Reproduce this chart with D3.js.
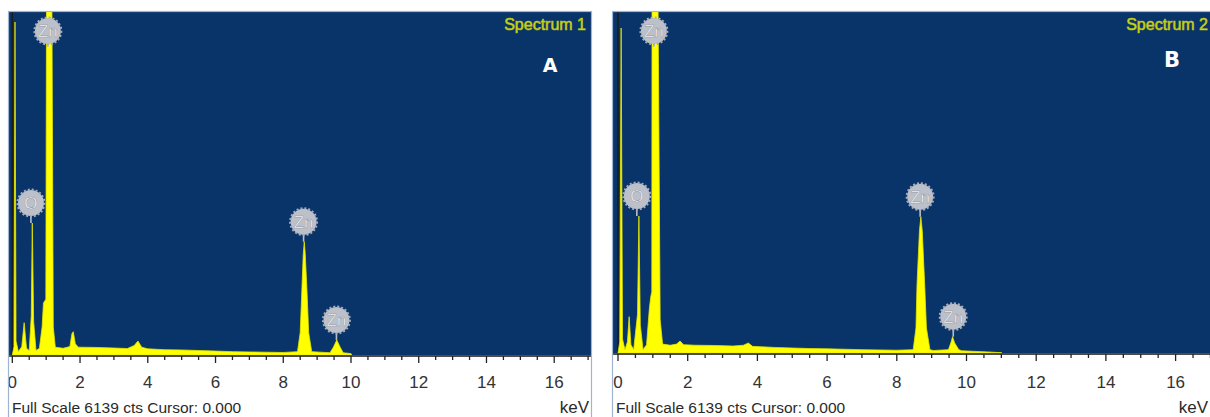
<!DOCTYPE html>
<html>
<head>
<meta charset="utf-8">
<script src="https://cdn.jsdelivr.net/npm/d3@7"></script>
<style>
  body { margin: 0; background: #ffffff; }
  svg { display: block; }
</style>
</head>
<body>
<div id="drawing_region"></div>
<script>
// EDS spectra (keV, counts)
const fullScale = 6139;
const tickLabels = [0, 2, 4, 6, 8, 10, 12, 14, 16];

const spectrumA_keV = [0.00, 0.05, 0.08, 0.11, 0.18, 0.28, 0.35, 0.42, 0.50, 0.56, 0.59, 0.63, 0.70, 0.80, 0.88, 0.92, 0.99, 1.02, 1.15, 1.21, 1.27, 1.50, 1.70, 1.76, 1.80, 1.86, 1.95, 2.50, 3.00, 3.40, 3.60, 3.71, 3.82, 4.00, 4.50, 5.00, 5.50, 6.00, 6.50, 7.00, 7.50, 8.00, 8.42, 8.50, 8.54, 8.59, 8.62, 8.65, 8.71, 8.75, 8.84, 9.38, 9.48, 9.58, 9.68, 9.77, 10.00, 10.02];
const spectrumA_cts = [0, 150, 5960, 250, 60, 150, 578, 120, 80, 700, 2362, 600, 80, 120, 500, 930, 1000, 9000, 9000, 500, 140, 120, 150, 380, 417, 200, 140, 135, 125, 115, 170, 250, 140, 110, 95, 90, 80, 70, 60, 55, 50, 45, 60, 400, 1014, 1800, 2028, 1800, 1014, 400, 60, 40, 140, 268, 140, 40, 25, 0];

const spectrumB_keV = [0.00, 0.05, 0.09, 0.13, 0.20, 0.27, 0.32, 0.37, 0.45, 0.56, 0.60, 0.64, 0.72, 0.82, 0.90, 0.94, 0.97, 0.98, 1.12, 1.21, 1.28, 1.50, 1.68, 1.78, 1.88, 2.20, 2.80, 3.30, 3.60, 3.74, 3.86, 4.50, 5.00, 5.50, 6.00, 7.00, 8.00, 8.47, 8.55, 8.58, 8.65, 8.69, 8.73, 8.80, 8.85, 8.95, 9.05, 9.48, 9.55, 9.60, 9.66, 9.78, 9.86, 10.20, 10.60, 11.00, 11.02];
const spectrumB_cts = [0, 200, 5851, 250, 60, 200, 654, 150, 60, 700, 2466, 500, 60, 150, 800, 1014, 1100, 9000, 9000, 600, 160, 140, 160, 216, 150, 140, 135, 125, 140, 180, 120, 100, 90, 80, 75, 60, 50, 60, 450, 1227, 2200, 2454, 2200, 1227, 450, 60, 45, 60, 180, 294, 180, 60, 40, 30, 20, 5, 0];

// element markers
const labelsA_name = ['Zn', 'O', 'Zn', 'Zn'];
const labelsA_keV = [1.05, 0.55, 8.60, 9.57];
const labelsA_cts = [9000, 2362, 2028, 268];

const labelsB_name = ['Zn', 'O', 'Zn', 'Zn'];
const labelsB_keV = [1.03, 0.54, 8.67, 9.62];
const labelsB_cts = [9000, 2466, 2454, 294];

const svg = d3.select('#drawing_region')
    .append('svg')
    .attr('width', 1210)
    .attr('height', 417);

const narrow = '"Liberation Sans Narrow", "Liberation Sans", Arial, sans-serif';

class SpectrumChart {

    constructor( config, data ) {
        this.config = config;
        this.data = data;
        this.init();
    }

    init() {
        let self = this;
        const c = self.config;

        self.chart = svg.append('g');

        self.xscale = d3.scaleLinear()
            .domain([0, 16])
            .range([c.x0, c.x0 + 16 * c.pxPerKeV]);
        self.yscale = d3.scaleLinear()
            .domain([0, fullScale])
            .range([c.bottom, c.top]);

        self.area = d3.area()
            .x( d => self.xscale(d.kev) )
            .y0( self.yscale(0) )
            .y1( d => self.yscale(d.cts) );
    }

    render() {
        let self = this;
        const c = self.config;
        const clipId = 'clip' + c.id;

        self.chart.append('clipPath')
            .attr('id', clipId)
            .append('rect')
            .attr('x', c.left).attr('y', c.top)
            .attr('width', c.right - c.left).attr('height', c.bottom - c.top);

        // blue plot background
        self.chart.append('rect')
            .attr('x', c.left).attr('y', c.top)
            .attr('width', c.right - c.left).attr('height', c.bottom - c.top)
            .attr('fill', '#09346a');

        // cursor at 0.000
        self.chart.append('line')
            .attr('x1', self.xscale(0)).attr('x2', self.xscale(0))
            .attr('y1', c.top).attr('y2', c.bottom)
            .attr('stroke', '#1b1b1b')
            .attr('stroke-width', 1.5);

        // spectrum
        self.chart.append('path')
            .attr('clip-path', `url(#${clipId})`)
            .attr('d', self.area(self.data.spectrum))
            .attr('fill', '#ffff00')
            .attr('stroke', '#e6e600')
            .attr('stroke-width', 0.8)
            .attr('stroke-linejoin', 'round');

        // axis
        self.chart.append('line')
            .attr('x1', c.left).attr('x2', c.right)
            .attr('y1', c.bottom + 1).attr('y2', c.bottom + 1)
            .attr('stroke', '#111').attr('stroke-width', 1.5);

        const ticks = d3.range(0, 17.5, 0.5)
            .filter( v => self.xscale(v) < c.right - 1 );
        self.chart.selectAll('.tick')
            .data(ticks)
            .join('line')
            .attr('x1', d => self.xscale(d)).attr('x2', d => self.xscale(d))
            .attr('y1', c.bottom + 1)
            .attr('y2', d => c.bottom + (d % 2 === 0 ? 8 : 5))
            .attr('stroke', '#222').attr('stroke-width', 1.3);

        self.chart.selectAll('.ticklabel')
            .data(tickLabels)
            .join('text')
            .attr('x', d => self.xscale(d))
            .attr('y', 388)
            .attr('text-anchor', 'middle')
            .attr('font-family', narrow)
            .attr('font-size', 17)
            .attr('fill', '#333')
            .text( d => d );

        self.chart.append('text')
            .attr('x', c.left + 3).attr('y', 413)
            .attr('font-family', narrow)
            .attr('font-size', 15.5)
            .attr('fill', '#2a2a2a')
            .text(`Full Scale ${fullScale} cts Cursor: 0.000`);

        self.chart.append('text')
            .attr('x', c.unitX).attr('y', 413)
            .attr('text-anchor', 'end')
            .attr('font-family', narrow)
            .attr('font-size', 17)
            .attr('fill', '#2a2a2a')
            .text('keV');

        // element badges
        const badges = self.data.labels.map( d => {
            const py = Math.max(self.yscale(d.cts), c.top);
            return { name: d.name, x: self.xscale(d.kev), py: py,
                     cy: Math.max(py - 20, c.top + 19) };
        });
        const g = self.chart.selectAll('.badge')
            .data(badges)
            .join('g');
        g.append('line')
            .attr('x1', d => d.x).attr('x2', d => d.x)
            .attr('y1', d => d.cy + 12).attr('y2', d => Math.max(d.py, d.cy + 16))
            .attr('stroke', '#b9bec8').attr('stroke-width', 1.6);
        g.append('circle')
            .attr('cx', d => d.x).attr('cy', d => d.cy)
            .attr('r', 13)
            .attr('fill', '#bcc0ca');
        g.append('circle')
            .attr('cx', d => d.x).attr('cy', d => d.cy)
            .attr('r', 13.5)
            .attr('fill', 'none')
            .attr('stroke', '#a7acb8')
            .attr('stroke-width', 2)
            .attr('stroke-dasharray', '2,2');
        g.append('text')
            .attr('x', d => d.x).attr('y', d => d.cy + 6)
            .attr('text-anchor', 'middle')
            .attr('font-family', narrow)
            .attr('font-size', 17)
            .attr('fill', '#ffffff')
            .attr('stroke', '#8c93a0')
            .attr('stroke-width', 0.5)
            .text( d => d.name );

        // titles
        self.chart.append('text')
            .attr('x', c.titleX).attr('y', 30)
            .attr('text-anchor', 'end')
            .attr('font-family', narrow)
            .attr('font-size', 16)
            .attr('fill', '#d4dc1e')
            .attr('stroke', '#b8c010')
            .attr('stroke-width', 0.6)
            .text(c.title);

        self.chart.append('text')
            .attr('x', c.letterX).attr('y', c.letterY)
            .attr('text-anchor', 'middle')
            .attr('font-family', '"DejaVu Sans", Verdana, sans-serif')
            .attr('font-weight', 'bold')
            .attr('font-size', c.letterSize)
            .attr('fill', '#ffffff')
            .text(c.letter);

        // frame
        self.chart.append('rect')
            .attr('x', c.left - 0.5).attr('y', c.top - 0.5)
            .attr('width', c.right - c.left + 1).attr('height', 420 - c.top)
            .attr('fill', 'none')
            .attr('stroke', '#9fb4d0')
            .attr('stroke-width', 1.2);
    }
}

function toPoints( kev, cts ) {
    return kev.map( (k, i) => ({ kev: k, cts: cts[i] }) );
}
function toLabels( names, kev, cts ) {
    return names.map( (n, i) => ({ name: n, kev: kev[i], cts: cts[i] }) );
}

const chartA = new SpectrumChart(
    { id: 'A', left: 9, right: 591, top: 12, bottom: 355, x0: 12.3, pxPerKeV: 33.87,
      title: 'Spectrum 1', titleX: 586, unitX: 589,
      letter: 'A', letterX: 550, letterY: 72, letterSize: 19 },
    { spectrum: toPoints(spectrumA_keV, spectrumA_cts),
      labels: toLabels(labelsA_name, labelsA_keV, labelsA_cts) } );
chartA.render();

const chartB = new SpectrumChart(
    { id: 'B', left: 613, right: 1214, top: 12, bottom: 353, x0: 618, pxPerKeV: 34.85,
      title: 'Spectrum 2', titleX: 1208, unitX: 1208,
      letter: 'B', letterX: 1172, letterY: 67, letterSize: 21 },
    { spectrum: toPoints(spectrumB_keV, spectrumB_cts),
      labels: toLabels(labelsB_name, labelsB_keV, labelsB_cts) } );
chartB.render();
</script>
</body>
</html>
